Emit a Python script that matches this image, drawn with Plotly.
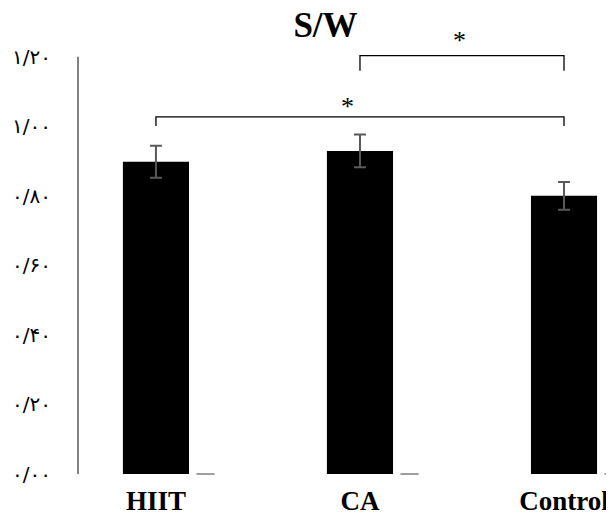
import plotly.graph_objects as go

categories = ["HIIT", "CA", "Control"]
values = [0.898, 0.929, 0.800]
errors = [0.046, 0.047, 0.040]
second_series = [0, 0, 0]
tick_vals = [0, 0.2, 0.4, 0.6, 0.8, 1.0, 1.2]
tick_text = ["۰/۰۰", "۰/۲۰", "۰/۴۰", "۰/۶۰", "۰/۸۰", "۱/۰۰", "۱/۲۰"]
# significance brackets: (from index, to index, bar level, leg end level)
comparisons = [(0, 2, 1.027, 1.001), (1, 2, 1.203, 1.160)]
star_pos = [(0.94, 1.058), (1.49, 1.247)]

# page body has an 8px margin, so the figure is sized to the visible area
W, H, OFF = 606, 507, 8

xs = list(range(len(categories)))
fig = go.Figure()
fig.add_trace(go.Bar(
    x=xs, y=values, width=0.324,
    marker=dict(color="black", line=dict(width=0)),
    error_y=dict(type="data", array=errors, color="#595959", thickness=2, width=6),
    showlegend=False,
))
fig.add_trace(go.Scatter(
    x=[i + 0.243 for i in xs], y=second_series, mode="markers",
    marker=dict(symbol="line-ew", size=13, line=dict(color="#7f7f7f", width=1.5)),
    showlegend=False, cliponaxis=False,
))
for a, b, lvl, end in comparisons:
    fig.add_trace(go.Scatter(
        x=[a, a, b, b], y=[end, lvl, lvl, end], mode="lines",
        line=dict(color="black", width=1.3, shape="linear"),
        showlegend=False,
    ))
for sx, sy in star_pos:
    fig.add_annotation(x=sx, y=sy, xref="x", yref="y", text="*", showarrow=False,
                       font=dict(family="Liberation Serif", size=26, color="black"))

fig.add_shape(type="line", xref="paper", yref="y", x0=0, x1=0, y0=0, y1=1.2,
              line=dict(color="#595959", width=1.5))

fig.update_layout(
    width=W, height=H,
    margin=dict(l=78 - OFF, r=0, t=15 - OFF, b=41, pad=0),
    plot_bgcolor="white", paper_bgcolor="white",
    title=dict(text="<b>S/W</b>", x=(325.5 - OFF) / W, xref="container", xanchor="center",
               y=1 - (24.5 - OFF) / H, yref="container", yanchor="middle",
               font=dict(family="Liberation Serif", size=35, color="black")),
    xaxis=dict(range=[-0.382, 2.245], tickvals=xs, automargin=False,
               ticktext=["<b>%s</b>" % c for c in categories],
               showgrid=False, zeroline=False, showline=False,
               ticks="outside", ticklen=3, tickcolor="rgba(0,0,0,0)",
               tickfont=dict(family="Liberation Serif", size=27, color="black")),
    yaxis=dict(range=[0, 1.32], tickvals=tick_vals, ticktext=tick_text, automargin=False,
               showgrid=False, zeroline=False, showline=False,
               ticks="outside", ticklen=22, tickcolor="rgba(0,0,0,0)",
               tickfont=dict(family="DejaVu Sans", size=20, color="black")),
)
fig.write_html("out.html")
